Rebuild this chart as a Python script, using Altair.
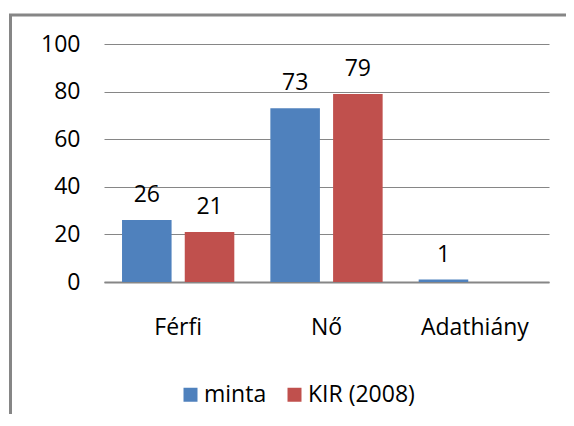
import altair as alt
import pandas as pd

categories = ["Férfi", "Nő", "Adathiány"]
series_names = ["minta", "KIR (2008)"]
minta = [26, 73, 1]
kir = [21, 79, None]
colors = ["#4F81BD", "#C0504D"]
y_ticks = [0, 20, 40, 60, 80, 100]

rows = []
for c, a, b in zip(categories, minta, kir):
    if a is not None:
        rows.append({"cat": c, "series": series_names[0], "value": a})
    if b is not None:
        rows.append({"cat": c, "series": series_names[1], "value": b})
df = pd.DataFrame(rows)

FONT = "Open Sans"
FS = 23
GRID = "#868686"

x_enc = alt.X("cat:N", sort=categories, title=None,
              scale=alt.Scale(domain=categories, paddingInner=0.243, paddingOuter=0.1215),
              axis=alt.Axis(labelAngle=0, labelFont=FONT, labelFontSize=FS, labelColor="#000",
                            ticks=False, tickSize=0, labelPadding=34, domainColor=GRID,
                            domainWidth=2, grid=False))
xo_enc = alt.XOffset("series:N", sort=series_names,
                     scale=alt.Scale(domain=series_names, paddingInner=0.21, paddingOuter=0))
y_enc = alt.Y("value:Q", title=None,
              scale=alt.Scale(domain=[0, 100], nice=False),
              axis=alt.Axis(values=y_ticks, labelFont=FONT, labelFontSize=FS, labelColor="#000",
                            ticks=False, tickSize=0, labelPadding=24, domain=False,
                            grid=True, gridColor=GRID, gridWidth=1))

base = alt.Chart(df)

bars = base.mark_bar().encode(
    x=x_enc,
    xOffset=xo_enc,
    y=y_enc,
    color=alt.Color("series:N", sort=series_names,
                    scale=alt.Scale(domain=series_names, range=colors),
                    legend=alt.Legend(title=None, orient="none", legendX=75, legendY=339,
                                      direction="horizontal", symbolType="square",
                                      symbolSize=196, symbolStrokeWidth=0,
                                      labelFont=FONT, labelFontSize=FS, labelColor="#000",
                                      columnPadding=16, labelOffset=2)),
)

labels = base.mark_text(font=FONT, fontSize=FS, color="#000", baseline="alphabetic",
                        dy=-18).encode(
    x=alt.X("cat:N", sort=categories),
    xOffset=alt.XOffset("series:N", sort=series_names),
    y=alt.Y("value:Q"),
    text=alt.Text("value:Q"),
)

one = alt.Data(values=[{"k": 1}])
frame_left = alt.Chart(one).mark_rule(color=GRID, strokeWidth=3).encode(
    x=alt.value(-93.5), y=alt.value(-30), y2=alt.value(380))
frame_top = alt.Chart(one).mark_rule(color=GRID, strokeWidth=3).encode(
    x=alt.value(-95), x2=alt.value(470), y=alt.value(-29))

chart = alt.layer(bars, labels, frame_left, frame_top).properties(
    width=445, height=238,
    autosize=alt.AutoSizeParams(type="none"),
    padding={"left": 96, "top": 36, "right": 17, "bottom": 132},
    background="white",
).configure_view(stroke=None)

chart.save("out.html", embed_options={"renderer": "svg", "actions": False})
